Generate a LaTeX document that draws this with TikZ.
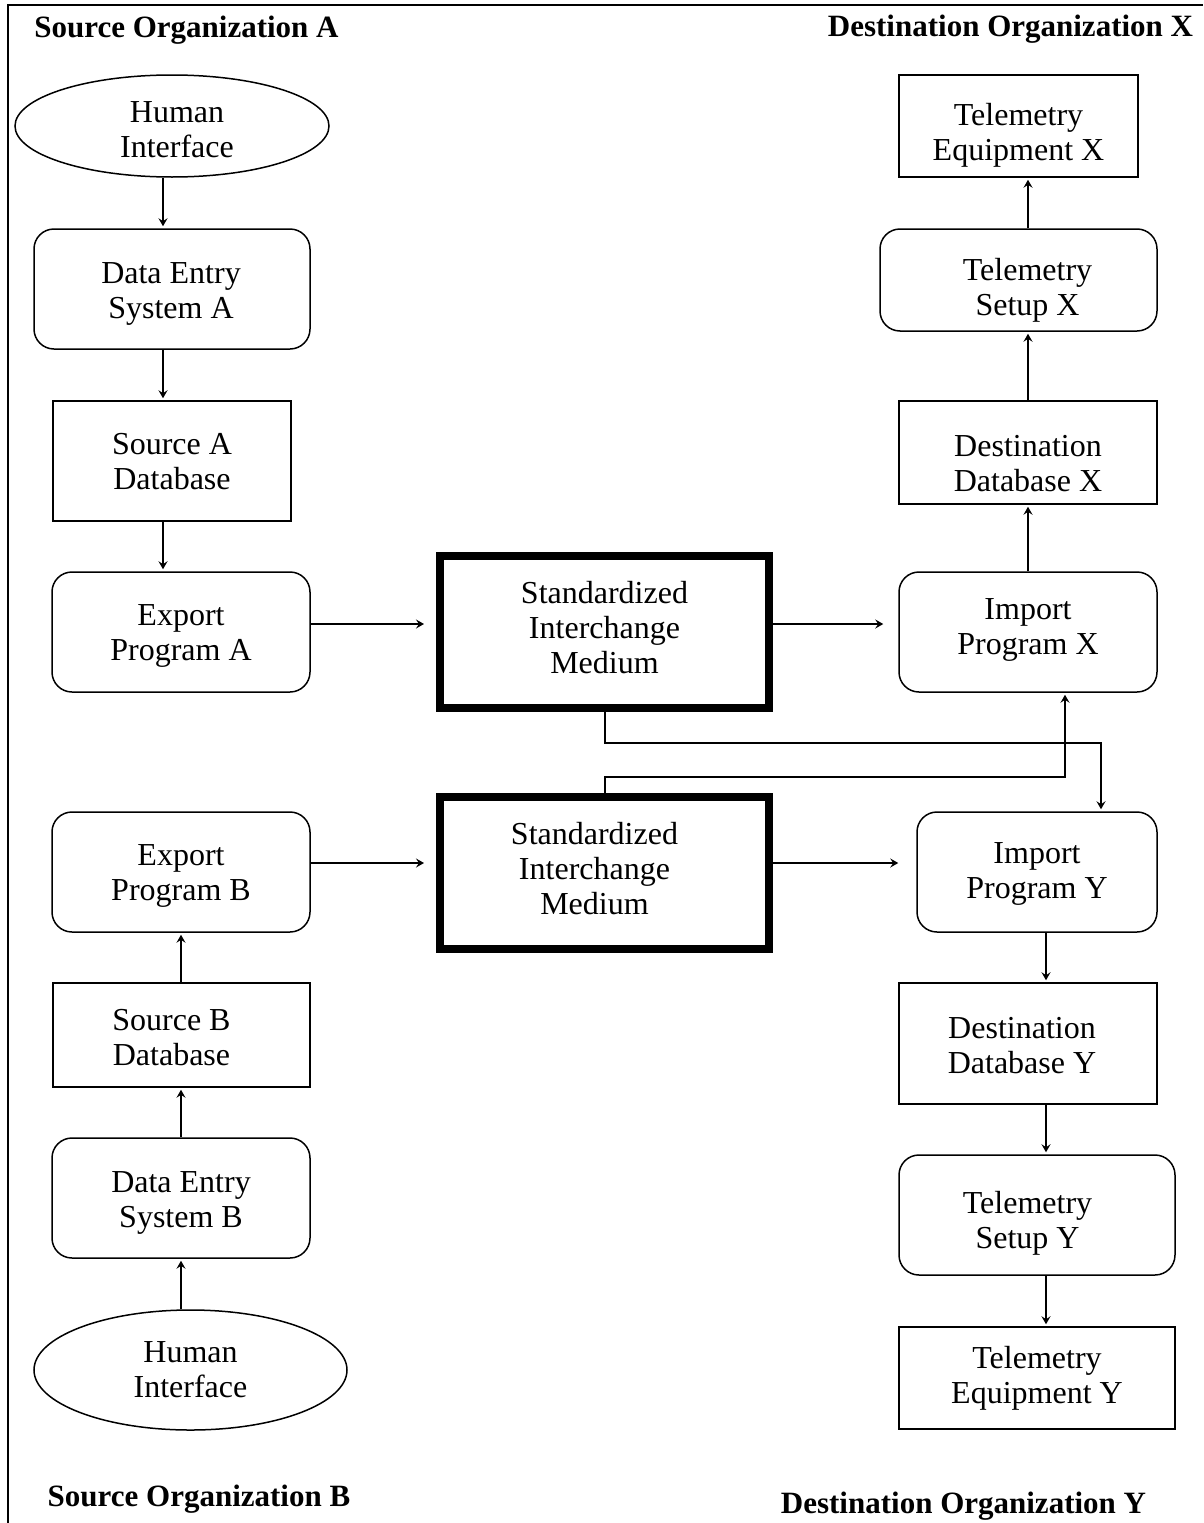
\documentclass[tikz,border=0pt]{standalone}
\usepackage{fontspec}
\setmainfont{Liberation Serif}
\usetikzlibrary{shapes.geometric,arrows.meta}
\newcommand{\bodyfont}{\fontsize{32}{35}\selectfont}
\newcommand{\titlefont}{\fontsize{31}{35}\selectfont\bfseries}
\def\tdx{0pt}\def\tdy{0pt}
\newcommand{\Ln}[1]{\hspace*{\tdx}\hspace*{\tdx}\raisebox{-\tdy}[\height][\depth]{#1}}
\tikzset{
  ts/.code 2 args={\def\tdx{#1}\def\tdy{#2}},
  box/.style={draw, line width=1.5pt, align=center, font=\bodyfont, inner sep=0pt},
  rbox/.style={box, rounded corners=20pt},
  ell/.style={draw, ellipse, line width=1.5pt, align=center, font=\bodyfont, inner sep=0pt},
  medium/.style={draw, line width=8pt, align=center, font=\bodyfont, inner sep=0pt, minimum width=329pt, minimum height=152pt},
  arr/.style={-{Stealth[length=8pt,width=9pt,inset=3pt]}, line width=2pt},
  orglabel/.style={font=\titlefont, inner sep=0pt}
}
\begin{document}
\begin{tikzpicture}[x=1pt,y=-1pt]
\useasboundingbox (0,0) rectangle (1203,1523);
% frame
\draw[line width=2.5pt] (8,1523) -- (8,5) -- (1203,5);

% labels
\node[orglabel] (orgA) at (186.5,30) {Source Organization A};
\node[orglabel] (orgX) at (1010.5,29) {Destination Organization X};
\node[orglabel] (orgB) at (199,1499) {Source Organization B};
\node[orglabel] (orgY) at (963.5,1506) {Destination Organization Y};

% column A
\node[ell, ts={5pt}{4pt}, minimum width=314pt, minimum height=102pt] (hiA) at (172,126) {\Ln{Human}\\\Ln{Interface}};
\node[rbox, ts={-1pt}{5pt}, minimum width=276pt, minimum height=120pt] (deA) at (172,289) {\Ln{Data Entry}\\\Ln{System A}};
\node[box, ts={0pt}{1pt}, minimum width=238pt, minimum height=120pt] (dbA) at (172,461) {\Ln{Source A}\\\Ln{Database}};
\node[rbox, ts={0pt}{4pt}, minimum width=258pt, minimum height=120pt] (exA) at (181,632) {\Ln{Export}\\\Ln{Program A}};

% media
\node[medium, ts={0pt}{-4pt}] (med1) at (604.5,632) {\Ln{Standardized}\\\Ln{Interchange}\\\Ln{Medium}};
\node[medium, ts={-10pt}{-4pt}] (med2) at (604.5,872.5) {\Ln{Standardized}\\\Ln{Interchange}\\\Ln{Medium}};

% column X
\node[rbox, ts={0pt}{-2pt}, minimum width=258pt, minimum height=120pt] (imX) at (1028,632) {\Ln{Import}\\\Ln{Program X}};
\node[box, ts={0pt}{11pt}, minimum width=258pt, minimum height=103pt] (dbX) at (1028,452.5) {\Ln{Destination}\\\Ln{Database X}};
\node[rbox, ts={9pt}{10pt}, minimum width=277pt, minimum height=102pt] (suX) at (1018.5,280) {\Ln{Telemetry}\\\Ln{Setup X}};
\node[box, ts={0pt}{9pt}, minimum width=239pt, minimum height=102pt] (eqX) at (1018.5,126) {\Ln{Telemetry}\\\Ln{Equipment X}};

% column B
\node[rbox, ts={0pt}{4pt}, minimum width=258pt, minimum height=120pt] (exB) at (181,872) {\Ln{Export}\\\Ln{Program B}};
\node[box, ts={-10pt}{3pt}, minimum width=257pt, minimum height=104pt] (dbB) at (181.5,1035) {\Ln{Source B}\\\Ln{Database}};
\node[rbox, ts={0pt}{5pt}, minimum width=258pt, minimum height=120pt] (deB) at (181,1198) {\Ln{Data Entry}\\\Ln{System B}};
\node[ell, minimum width=313pt, minimum height=120pt] (hiB) at (190.5,1370) {Human\\Interface};

% column Y
\node[rbox, ts={0pt}{2pt}, minimum width=240pt, minimum height=120pt] (imY) at (1037,872) {\Ln{Import}\\\Ln{Program Y}};
\node[box, ts={-6pt}{2pt}, minimum width=258pt, minimum height=121pt] (dbY) at (1028,1043.5) {\Ln{Destination}\\\Ln{Database Y}};
\node[rbox, ts={-9.5pt}{8pt}, minimum width=276pt, minimum height=120pt] (suY) at (1037,1215) {\Ln{Telemetry}\\\Ln{Setup Y}};
\node[box, minimum width=276pt, minimum height=102pt] (eqY) at (1037,1378) {Telemetry\\Equipment Y};

% helper coordinates
\coordinate (xA) at (163,0);
\coordinate (xB) at (181,0);
\coordinate (xX) at (1028,0);
\coordinate (xY) at (1046,0);
\coordinate (y1) at (0,624);
\coordinate (y2) at (0,863);
\coordinate (yc1) at (0,743);
\coordinate (yc2) at (0,777);
\coordinate (xc1) at (1101,0);
\coordinate (xc2) at (1065,0);

% column A arrows
\draw[arr, shorten >=2pt] (hiA.south -| xA) -- (deA.north -| xA);
\draw[arr, shorten >=2pt] (deA.south -| xA) -- (dbA.north -| xA);
\draw[arr, shorten >=2pt] (dbA.south -| xA) -- (exA.north -| xA);

% column X arrows
\draw[arr, shorten >=2pt] (imX.north -| xX) -- (dbX.south -| xX);
\draw[arr, shorten >=2pt] (dbX.north -| xX) -- (suX.south -| xX);
\draw[arr, shorten >=2pt] (suX.north -| xX) -- (eqX.south -| xX);

% column B arrows
\draw[arr, shorten >=2pt] (hiB.north -| xB) -- (deB.south -| xB);
\draw[arr, shorten >=2pt] (deB.north -| xB) -- (dbB.south -| xB);
\draw[arr, shorten >=2pt] (dbB.north -| xB) -- (exB.south -| xB);

% column Y arrows
\draw[arr, shorten >=2pt] (imY.south -| xY) -- (dbY.north -| xY);
\draw[arr, shorten >=2pt] (dbY.south -| xY) -- (suY.north -| xY);
\draw[arr, shorten >=2pt] (suY.south -| xY) -- (eqY.north -| xY);

% horizontal arrows
\draw[arr, shorten >=12pt] (exA.east |- y1) -- (med1.west |- y1);
\draw[arr, shorten >=15pt] (med1.east |- y1) -- (imX.west |- y1);
\draw[arr, shorten >=12pt] (exB.east |- y2) -- (med2.west |- y2);
\draw[arr, shorten >=18pt] (med2.east |- y2) -- (imY.west |- y2);

% cross connectors
\draw[arr, shorten >=2pt] (med1.south) -- (med1.south |- yc1) -| (imY.north -| xc1);
\draw[arr, shorten >=2pt] (med2.north) -- (med2.north |- yc2) -| (imX.south -| xc2);
\end{tikzpicture}
\end{document}
